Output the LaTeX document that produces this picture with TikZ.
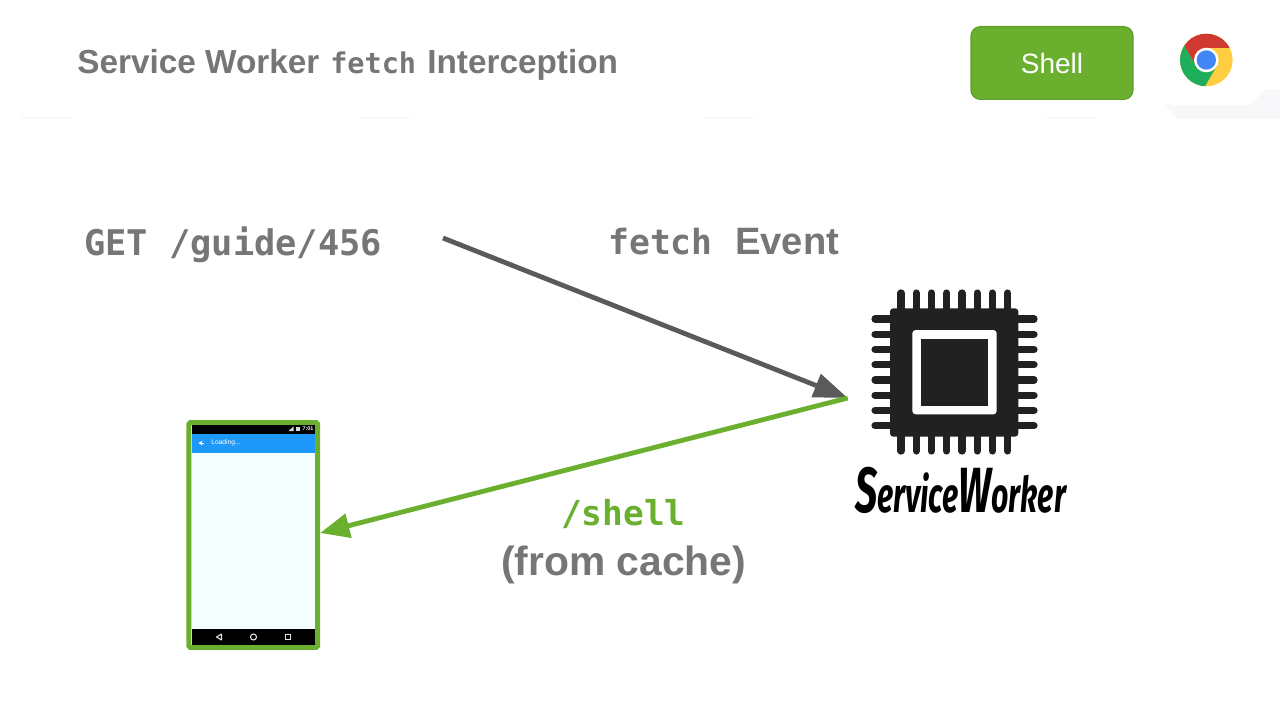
\documentclass[tikz,border=0pt]{standalone}
\usepackage{fontspec}
\setmainfont{Liberation Sans}
\newfontfamily\mn{DejaVu Sans Mono}
\newfontfamily\hand{Fira Sans}
\usetikzlibrary{arrows.meta}
\definecolor{tgray}{HTML}{767676}
\definecolor{sgreen}{HTML}{6AB02E}
\definecolor{dk}{HTML}{212121}
\definecolor{arrgray}{HTML}{5A5A5A}
\definecolor{faint}{HTML}{F8F8FB}
\definecolor{faintb}{HTML}{F9F9F9}
\definecolor{cred}{HTML}{D0392F}
\definecolor{cgreen}{HTML}{1FAE5B}
\definecolor{cyellow}{HTML}{FFCD40}
\definecolor{cblue}{HTML}{4285F4}
\definecolor{appblue}{HTML}{1E98FA}
\definecolor{screen}{HTML}{F5FEFF}
\tikzset{
 lbl/.style={inner sep=0,text=tgray,anchor=base west},
 pin/.style={line width=5.4pt,line cap=round,dk},
 flowgray/.style={line width=3.6pt,arrgray,-{Triangle[length=25.5pt,width=18pt]}},
 flowgreen/.style={line width=3.6pt,sgreen,-{Triangle[length=22pt,width=18pt]}}
}
\begin{document}
\begin{tikzpicture}[x=0.75pt,y=-0.75pt]
\useasboundingbox (0,0) rectangle (1280,720);
\fill[white] (0,0) rectangle (1280,720);
% header remnants
\fill[faint] (1165,105) -- (1252,105) -- (1264,90) -- (1280,90) -- (1280,119) -- (1177,119) -- cycle;
\foreach \a/\b in {20/70,362/412,702/755,1045/1095}
  \fill[faintb] (\a,117) rectangle (\b,119);
% title
\node[lbl,font=\fontsize{25}{30}\selectfont\bfseries] (t1) at (77,74) {Service Worker};
\node[lbl,font=\fontsize{21.4}{30}\selectfont\mn\bfseries] (t2) at (330,74) {fetch};
\node[lbl,font=\fontsize{25}{30}\selectfont\bfseries] (t3) at (427,74) {Interception};
% Shell button
\node[draw=sgreen!92!black,fill=sgreen,rounded corners=7pt,line width=1pt,minimum width=121.5pt,minimum height=54.5pt,inner sep=0,text=white,font=\fontsize{21}{25}\selectfont] (shell) at (1052,63) {Shell};
% Chrome icon
\begin{scope}[shift={(1206.3,60)}]
 \begin{scope}
  \clip (0,0) circle[radius=26.3];
  \fill[cyellow] (-30,-30) rectangle (30,30);
  \fill[cred] (0,-12) -- (40,-12) -- (40,-50) -- (-40,-50) -- (-38.4,-42.5) -- (-10.4,6) -- cycle;
  \fill[cgreen] (-10.4,6) -- (-38.4,-42.5) -- (-60,-42) -- (-60,60) -- (-9.2,60) -- (-9.2,40) -- (10.4,6) -- cycle;
 \end{scope}
 \fill[white] (0,0) circle[radius=12.3];
 \fill[cblue] (0,0) circle[radius=9.7];
\end{scope}
% labels
\node[lbl,font=\fontsize{26.5}{30}\selectfont\mn\bfseries] (get) at (84,255) {GET /guide/456};
\node[lbl,font=\fontsize{26}{30}\selectfont\mn\bfseries] (ev1) at (608,254) {fetch};
\node[lbl,font=\fontsize{28.6}{30}\selectfont\bfseries] (ev2) at (735,254) {Event};
\node[lbl,text=sgreen,font=\fontsize{25.8}{30}\selectfont\mn\bfseries] (sh) at (561,525) {/shell};
\node[lbl,font=\fontsize{30.6}{34}\selectfont\bfseries] (fc) at (501,575) {(from cache)};
% service worker group (invisible frame, chip and wordmark drawn inside)
\node[minimum width=159pt,minimum height=165pt,inner sep=0] (sw) at (954,398) {};
\foreach \i in {0,...,7}{
  \draw[pin] (901+15.24*\i,293) -- (901+15.24*\i,312);
  \draw[pin] (901+15.24*\i,430) -- (901+15.24*\i,451);
  \draw[pin] (875,319+15.24*\i) -- (895,319+15.24*\i);
  \draw[pin] (1013,319+15.24*\i) -- (1034,319+15.24*\i);
}
\fill[dk,rounded corners=2.5pt] (890,308.3) rectangle (1018.3,436.7);
\fill[white,rounded corners=2.5pt] (912.3,330) rectangle (996.7,414.3);
\fill[dk] (920.7,339) rectangle (988.3,406);
\node[inner sep=0,anchor=base west,text=black] (swt) at (855,512)
  {\resizebox{158pt}{34pt}{\hand\bfseries\itshape\fontsize{20}{20}\selectfont{\fontsize{26}{26}\selectfont S}ervice{\fontsize{26}{26}\selectfont W}orker}};
% phone
\node[draw=sgreen,line width=3.75pt,fill=screen,rounded corners=1pt,minimum width=96.5pt,minimum height=168.5pt,inner sep=0] (phone) at (253.3,535) {};
\fill[black] (191.5,424.5) rectangle (315,433.5);
\fill[appblue] (191.5,433.5) rectangle (315,453);
\fill[black] (191.5,628.5) rectangle (315,645);
\node[inner sep=0,text=white,font=\fontsize{5}{6}\selectfont] (load) at (226,443) {Loading...};
\node[inner sep=0,text=white,font=\fontsize{4}{5}\selectfont\bfseries] (clock) at (308,429) {7:01};
\draw[white,line width=.6pt,-{Stealth[length=3pt,width=3.5pt]}] (204,443) -- (198.5,443);
\fill[white!85!black] (288.5,431) -- (293.5,426.5) -- (293.5,431) -- cycle;
\fill[white!85!black] (295.5,427) rectangle (299.5,431);
\draw[white!90!black,line width=.8pt,line join=round] (221.5,634) -- (216.5,637) -- (221.5,640) -- cycle;
\draw[white!90!black,line width=.8pt] (253.5,637) circle[radius=3];
\draw[white!90!black,line width=.8pt] (285.5,634.5) rectangle (290.5,639.5);
% connectors
\coordinate (getout) at (443,238);
\draw[flowgray] (getout) -- (sw.west);
\draw[flowgreen] (sw.west) -- ([yshift=1.5pt]phone.east);
\end{tikzpicture}
\end{document}
